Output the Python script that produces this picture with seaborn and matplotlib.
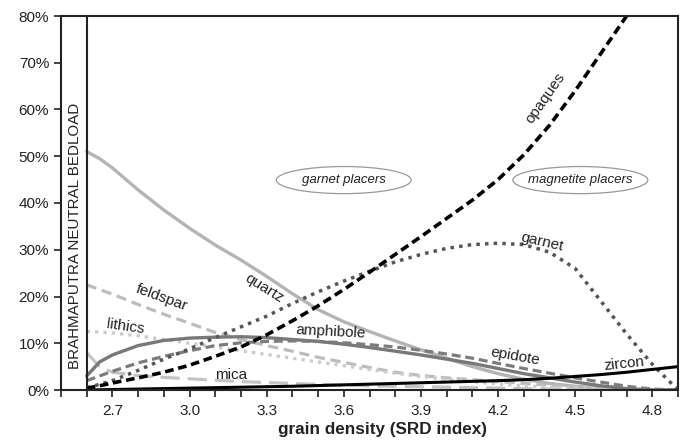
import matplotlib
matplotlib.use("Agg")
import matplotlib.pyplot as plt
from matplotlib.patches import Ellipse
import seaborn as sns
import pandas as pd

# ---- data ----
density = [2.6, 2.65, 2.7, 2.8, 2.9, 3.0, 3.1, 3.2, 3.3, 3.4, 3.5, 3.6, 3.7,
           3.8, 3.9, 4.0, 4.1, 4.2, 4.3, 4.4, 4.5, 4.6, 4.7, 4.8, 4.9]
quartz = [51, 49.5, 47.5, 42.8, 38.5, 34.6, 31, 27.8, 24.3, 20.6, 17.2, 14.6, 12.5,
          10.5, 8.6, 6.8, 5.0, 3.5, 2.3, 1.4, 0.8, 0.4, 0.1, 0, 0]
feldspar = [22.5, 21.5, 20.5, 18.3, 16.2, 14.3, 12.3, 10.8, 9.5, 8.3, 7.0, 5.9, 4.8,
            3.8, 3.1, 2.6, 2.2, 1.8, 1.4, 1.0, 0.7, 0.4, 0.2, 0, 0]
lithics = [12.5, 12.4, 12.2, 11.6, 10.8, 10.0, 9.2, 8.4, 7.6, 6.8, 6.0, 5.2, 4.4,
           3.6, 2.9, 2.3, 1.8, 1.3, 0.9, 0.6, 0.4, 0.2, 0.1, 0, 0]
mica = [8, 5, 3.8, 3.1, 2.7, 2.4, 2.1, 1.8, 1.6, 1.4, 1.2, 1.0, 0.9,
        0.8, 0.7, 0.6, 0.5, 0.4, 0.3, 0.2, 0.15, 0.1, 0.05, 0, 0]
amphibole = [3, 6, 7.5, 9.5, 10.6, 11.1, 11.3, 11.4, 11.2, 10.8, 10.4, 9.8, 9.1,
             8.3, 7.5, 6.6, 5.7, 4.6, 3.5, 2.6, 1.7, 0.9, 0.3, 0, 0]
epidote = [2, 3, 4, 5.8, 7.2, 8.4, 9.5, 10.1, 10.4, 10.5, 10.4, 10.1, 9.7,
           9.2, 8.5, 7.7, 6.8, 5.7, 4.6, 3.6, 2.6, 1.7, 0.8, 0.2, 0]
garnet = [0.5, 1.2, 2, 4.2, 6.6, 8.8, 11.2, 13.5, 15.8, 18.5, 21, 23.3, 25.4,
          27.4, 29.0, 30.3, 31.1, 31.4, 31.1, 29.5, 26, 19, 12, 5.5, 0]
opaques = [0.4, 0.9, 1.5, 2.6, 3.8, 5.3, 7.2, 9.2, 11.8, 14.8, 18.0, 21.5, 25.2,
           29.0, 32.8, 36.7, 40.6, 45, 50.3, 56.6, 64, 72, 80, 88, 96]
zircon = [0, 0.05, 0.1, 0.2, 0.3, 0.4, 0.5, 0.6, 0.7, 0.8, 0.95, 1.1, 1.25,
          1.4, 1.55, 1.7, 1.85, 2.0, 2.2, 2.5, 2.9, 3.3, 3.8, 4.4, 5.0]

x_ticklabels = ["2.7", "3.0", "3.3", "3.6", "3.9", "4.2", "4.5", "4.8"]
y_ticklabels = ["0%", "10%", "20%", "30%", "40%", "50%", "60%", "70%", "80%"]

sns.set_theme(style="ticks")
plt.rcParams["font.family"] = ["Liberation Sans", "DejaVu Sans"]

fig = plt.figure(figsize=(6.86, 4.40), dpi=100)
ax = fig.add_axes([61/686, 1 - 390/440, (678 - 61)/686, (390 - 16)/440])

styles = [
    (quartz, "#b4b4b4", "-", None, 2.4),
    (feldspar, "#bcbcbc", "--", (3.2, 1.8), 2.3),
    (lithics, "#cccccc", ":", (1, 1.5), 2.4),
    (mica, "#c4c4c4", "--", (6, 2.5), 2.3),
    (amphibole, "#787878", "-", None, 2.4),
    (epidote, "#7c7c7c", "--", (2.8, 1.5), 2.3),
    (garnet, "#555555", ":", (1, 1.5), 2.5),
    (zircon, "#000000", "-", None, 2.2),
    (opaques, "#000000", "--", (2.4, 1.3), 2.6),
]
for vals, col, ls, dash, lw in styles:
    df = pd.DataFrame({"x": density, "y": vals})
    line_ax = sns.lineplot(data=df, x="x", y="y", ax=ax, color=col, lw=lw,
                           linestyle=ls, sort=False)
    ln = line_ax.get_lines()[-1]
    if dash is not None:
        ln.set_dashes(dash)

ax.set_xlim(2.5, 4.9)
ax.set_ylim(0, 80)

xt = [2.5 + 0.1 * i for i in range(25)]
ax.set_xticks(xt)
labels = []
for v in xt:
    s = f"{v:.1f}"
    labels.append(s if s in x_ticklabels else "")
ax.set_xticklabels(labels)
ax.set_yticks(range(0, 81, 10))
ax.set_yticklabels(y_ticklabels)
ax.tick_params(axis="both", direction="out", length=5, width=1.2, color="#222222",
               labelsize=11, labelcolor="#222222")
ax.tick_params(axis="x", pad=5)
for sp in ax.spines.values():
    sp.set_linewidth(1.5)
    sp.set_color("#222222")
    sp.set_visible(True)

ax.axvline(2.6, color="#222222", lw=1.5)
ax.text(2.553, 32.9, "BRAHMAPUTRA NEUTRAL BEDLOAD", rotation=90, ha="center",
        va="center", fontsize=10.9, color="#222222")

ax.set_xlabel("grain density (SRD index)", fontsize=12.3, fontweight="bold",
              color="#222222", labelpad=3)
ax.xaxis.label.set_x((383 - 61) / 617)
ax.set_ylabel("")

for cx, txt in [(3.6, "garnet placers"), (4.52, "magnetite placers")]:
    ax.add_patch(Ellipse((cx, 44.9), 0.525, 5.8, fill=False, ec="#999999", lw=0.9))
    ax.text(cx, 44.9, txt, ha="center", va="center", fontsize=9.5,
            style="italic", color="#222222")

labs = [
    ("quartz", 3.29, 21.8, -32),
    ("feldspar", 2.893, 19.7, -20),
    ("lithics", 2.75, 13.5, -8),
    ("amphibole", 3.55, 12.4, -3),
    ("mica", 3.16, 3.3, 0),
    ("epidote", 4.265, 7.2, -10),
    ("zircon", 4.69, 5.6, 6),
    ("garnet", 4.37, 31.7, -13),
    ("opaques", 4.385, 62.4, 55),
]
for t, x, y, r in labs:
    ax.text(x, y, t, rotation=r, ha="center", va="center", fontsize=11,
            color="#222222", rotation_mode="anchor")

fig.savefig("out.png", dpi=100)
